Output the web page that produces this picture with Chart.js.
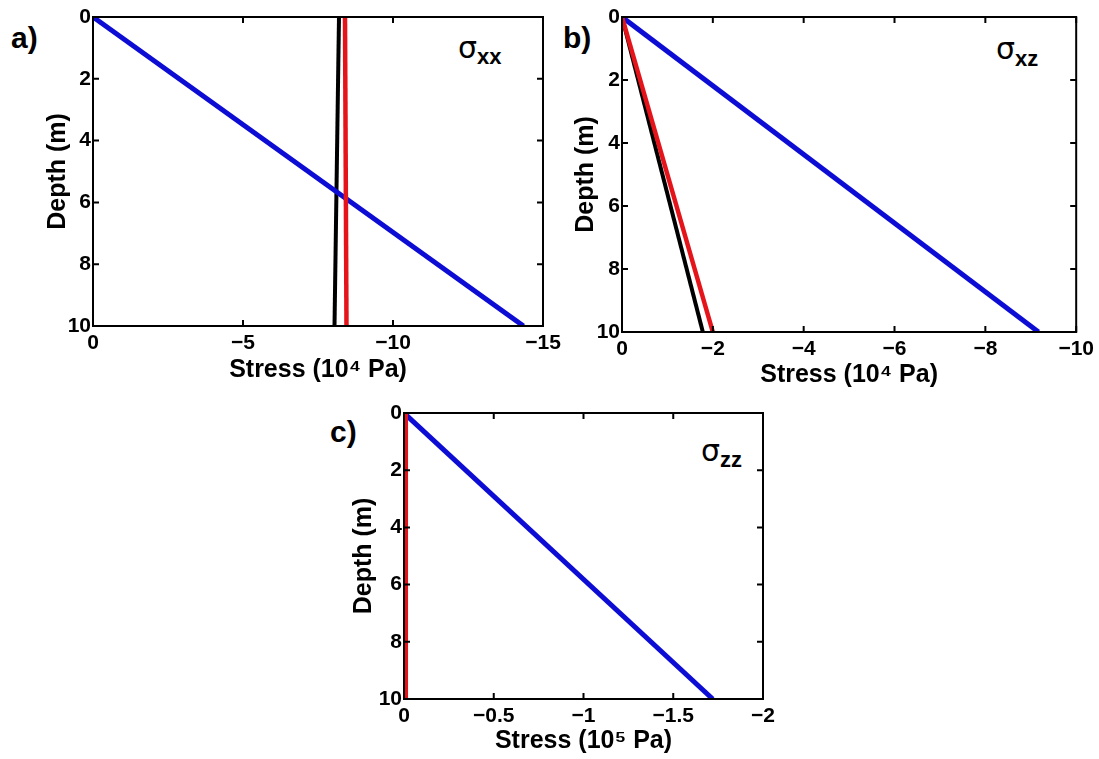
<!DOCTYPE html>
<html>
<head>
<meta charset="utf-8">
<script src="https://cdn.jsdelivr.net/npm/chart.js@4"></script>
<style>
  body { margin: 0; background: #fff; width: 1099px; height: 759px; position: relative; overflow: hidden; }
  canvas { position: absolute; }
  .painel { position: absolute; font: bold 30px "Liberation Sans", Arial, sans-serif; color: #000; }
  .sigma { position: absolute; font: 30px "DejaVu Sans", sans-serif; color: #000; line-height: 1; }
  .sigma span { font: bold 22px "Liberation Sans", Arial, sans-serif; position: relative; top: 6px; }
</style>
</head>
<body>
<div class="painel" style="left:11px;top:21px">a)</div>
<div class="painel" style="left:563px;top:21px">b)</div>
<div class="painel" style="left:330px;top:415px">c)</div>

<div class="sigma" style="left:458px;top:33px">σ<span>xx</span></div>
<div class="sigma" style="left:996px;top:34px">σ<span style="top:7px">xz</span></div>
<div class="sigma" style="left:701px;top:436px">σ<span>zz</span></div>

<canvas id="chartA" width="544" height="385" style="left:23px;top:1px"></canvas>
<canvas id="chartB" width="547" height="391" style="left:552px;top:1px"></canvas>
<canvas id="chartC" width="453" height="362" style="left:334px;top:397px"></canvas>

<script>
// Profundidade (m) - mesma para todas as curvas
const profundidade = [0, 10];
const ticksProfundidade = [0, 2, 4, 6, 8, 10];

// a) sigma_xx (10^4 Pa)
const aPreto = [-8.2, -8.05];
const aVermelho = [-8.4, -8.45];
const aAzul = [0, -14.35];
const aTicksX = [0, -5, -10, -15];

// b) sigma_xz (10^4 Pa)
const bPreto = [0, -1.78];
const bVermelho = [0, -2.0];
const bAzul = [0, -9.17];
const bTicksX = [0, -2, -4, -6, -8, -10];

// c) sigma_zz (10^5 Pa)
const cPreto = [0, 0];
const cVermelho = [-0.01, -0.01];
const cAzul = [0, -1.72];
const cTicksX = [0, -0.5, -1, -1.5, -2];

const fonteTicks = { family: "'Liberation Sans', Arial, sans-serif", size: 21, weight: "bold" };
const fonteTitulo = { family: "'Liberation Sans', Arial, sans-serif", size: 25, weight: "bold" };

// Moldura e marcas de escala para dentro (estilo MATLAB)
const molduraPlugin = {
    id: "moldura",
    afterDatasetsDraw(chart) {
        const { ctx, chartArea: a, scales: { x, y } } = chart;
        ctx.save();
        ctx.strokeStyle = "#000";
        ctx.lineWidth = 2;
        ctx.beginPath();
        x.ticks.forEach(t => {
            const px = x.getPixelForValue(t.value);
            ctx.moveTo(px, a.bottom); ctx.lineTo(px, a.bottom - 6);
            ctx.moveTo(px, a.top); ctx.lineTo(px, a.top + 6);
        });
        y.ticks.forEach(t => {
            const py = y.getPixelForValue(t.value);
            ctx.moveTo(a.left, py); ctx.lineTo(a.left + 6, py);
            ctx.moveTo(a.right, py); ctx.lineTo(a.right - 6, py);
        });
        ctx.stroke();
        ctx.strokeRect(a.left, a.top, a.width, a.height);
        ctx.restore();
    }
};

function formatarTick(v) {
    return v === 0 ? "0" : "\u2212" + Math.abs(v);
}

function serie(valores, cor, largura, ordem) {
    return {
        data: profundidade.map((d, i) => ({ x: valores[i], y: d })),
        borderColor: cor,
        borderWidth: largura,
        pointRadius: 0,
        showLine: true,
        order: ordem
    };
}

function criarPainel(id, preto, vermelho, azul, ticksX, tituloX, pad) {
    const xMin = Math.min(...ticksX);
    new Chart(document.getElementById(id), {
        type: "scatter",
        data: {
            datasets: [
                serie(vermelho, "#e5141b", 4.5, 0),
                serie(azul, "#0c0cd4", 5, 1),
                serie(preto, "#000000", 4, 2)
            ]
        },
        options: {
            responsive: false,
            animation: false,
            layout: { padding: { top: 16, right: pad.dir, left: 0, bottom: 0 } },
            plugins: { legend: { display: false }, tooltip: { enabled: false } },
            scales: {
                x: {
                    type: "linear",
                    min: xMin,
                    max: 0,
                    reverse: true,
                    afterBuildTicks: s => { s.ticks = ticksX.map(v => ({ value: v })); },
                    afterFit: s => { s.height = 60; },
                    grid: { display: false, drawTicks: false },
                    border: { display: false },
                    ticks: { autoSkip: false, maxRotation: 0, padding: 5, color: "#000", font: fonteTicks, callback: formatarTick },
                    title: { display: true, text: tituloX, color: "#000", font: fonteTitulo, padding: { top: 0, bottom: pad.xb } }
                },
                y: {
                    type: "linear",
                    min: 0,
                    max: 10,
                    reverse: true,
                    afterBuildTicks: s => { s.ticks = ticksProfundidade.map(v => ({ value: v })); },
                    afterFit: s => { s.width = 70; },
                    grid: { display: false, drawTicks: false },
                    border: { display: false },
                    ticks: { autoSkip: false, padding: 2, color: "#000", font: fonteTicks },
                    title: { display: true, text: "Depth (m)", color: "#000", font: fonteTitulo, padding: { top: pad.yt, bottom: 0 } }
                }
            }
        },
        plugins: [molduraPlugin]
    });
}

criarPainel("chartA", aPreto, aVermelho, aAzul, aTicksX, "Stress (10\u2074 Pa)", { xb: 1, yt: 20, dir: 24 });
criarPainel("chartB", bPreto, bVermelho, bAzul, bTicksX, "Stress (10\u2074 Pa)", { xb: 2, yt: 19, dir: 20 });
criarPainel("chartC", cPreto, cVermelho, cAzul, cTicksX, "Stress (10\u2075 Pa)", { xb: 3, yt: 15, dir: 24 });
</script>
</body>
</html>
